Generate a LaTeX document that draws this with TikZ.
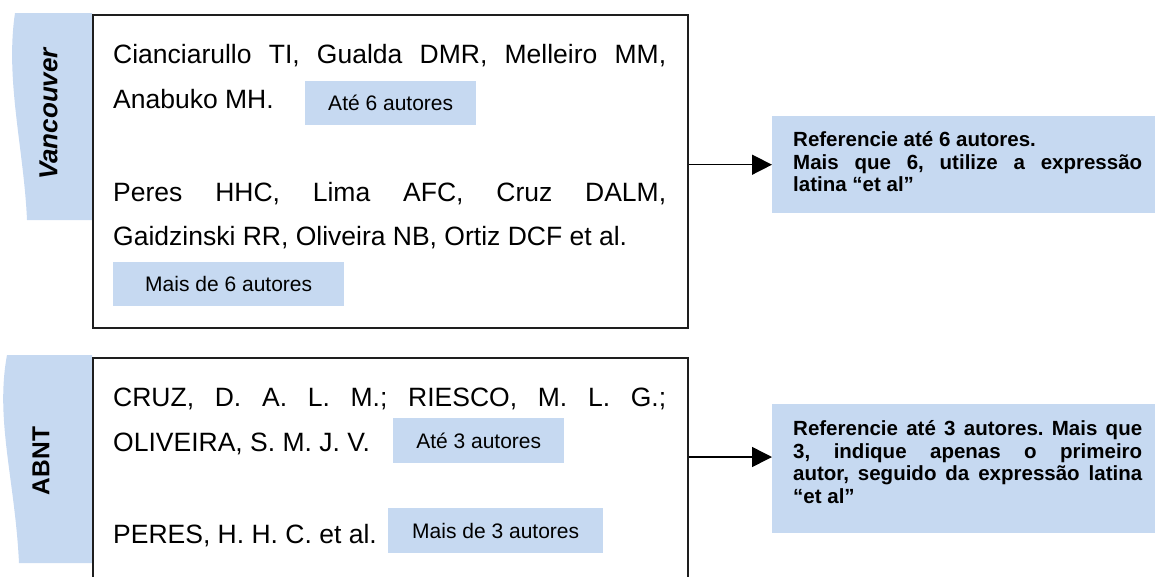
\documentclass[tikz,border=0pt]{standalone}
\usepackage{fontspec}
\setmainfont{Liberation Sans}
\usetikzlibrary{arrows.meta}
\definecolor{tabblue}{RGB}{198,217,241}
\definecolor{edge}{RGB}{30,30,30}
\frenchspacing
\begin{document}
\begin{tikzpicture}[x=1pt,y=-1pt,
  refbox/.style={draw=edge, line width=1.5pt, fill=white, inner sep=0pt, anchor=north west},
  lbl/.style={fill=tabblue, inner sep=0pt, minimum height=44pt, anchor=north west, font=\fontsize{21}{25}\selectfont},
  notebox/.style={fill=tabblue, inner sep=0pt, anchor=north west},
  mainline/.style={anchor=base west, inner sep=0pt, font=\fontsize{26.5}{30}\selectfont},
  noteline/.style={anchor=base west, inner sep=0pt, font=\fontsize{20.5}{24}\bfseries\selectfont},
  tabtext/.style={rotate=90, inner sep=0pt},
  conn/.style={draw=black, line width=1.5pt, -{Triangle[length=20pt,width=20pt]}}
]
\useasboundingbox (0,0) rectangle (1155,576);

% tabs
\fill[tabblue] (15,13) -- (92,13) -- (92,220) -- (27,220) .. controls (24,150) and (5,80) .. (15,13) -- cycle;
\fill[tabblue] (7,355) -- (92,355) -- (92,563) -- (19,563) .. controls (15,480) and (-5,420) .. (7,355) -- cycle;
\node[tabtext, font=\fontsize{26}{30}\bfseries\itshape\selectfont] (vt) at (48.5,114) {Vancouver};
\node[tabtext, font=\fontsize{24.5}{28}\bfseries\selectfont] (at) at (41,461) {ABNT};

% main boxes
\node[refbox, minimum width=595pt, minimum height=313pt] (vbox) at (92,14) {};
\node[refbox, minimum width=595pt, minimum height=240pt] (abox) at (92,357) {};

% note boxes
\node[notebox, minimum width=390pt, minimum height=97pt] (vnote) at (772,116) {};
\node[notebox, minimum width=390pt, minimum height=129pt] (anote) at (772,404) {};

% small label boxes
\node[lbl, minimum width=171pt] (v6a) at (305,81) {Até 6 autores};
\node[lbl, minimum width=231pt] (v6m) at (113,262) {Mais de 6 autores};
\node[lbl, minimum width=171pt, minimum height=45pt] (a3a) at (393,418) {Até 3 autores};
\node[lbl, minimum width=215pt, minimum height=45pt] (a3m) at (388,508) {Mais de 3 autores};

% reference texts
\node[mainline] (v1) at (113,63.3) {\makebox[553pt][s]{Cianciarullo TI, Gualda DMR, Melleiro MM,}};
\node[mainline] (v2) at (113,108.3) {Anabuko MH.};
\node[mainline] (v3) at (113,201) {\makebox[553pt][s]{Peres HHC, Lima AFC, Cruz DALM,}};
\node[mainline] (v4) at (113,245) {Gaidzinski RR, Oliveira NB, Ortiz DCF et al.};
\node[mainline] (a1) at (113,406.7) {\makebox[553pt][s]{CRUZ, D. A. L. M.; RIESCO, M. L. G.;}};
\node[mainline] (a2) at (113,451.7) {OLIVEIRA, S. M. J. V.};
\node[mainline] (a3) at (113,543) {PERES, H. H. C. et al.};

% note texts
\node[noteline] (n1) at (793,146.7) {Referencie até 6 autores.};
\node[noteline] (n2) at (793,169.3) {\makebox[349pt][s]{Mais que 6, utilize a expressão}};
\node[noteline] (n3) at (793,191.7) {latina “et al”};
\node[noteline] (m1) at (793,435) {\makebox[349pt][s]{Referencie até 3 autores. Mais que}};
\node[noteline] (m2) at (793,458) {\makebox[349pt][s]{3, indique apenas o primeiro}};
\node[noteline] (m3) at (793,480.5) {\makebox[349pt][s]{autor, seguido da expressão latina}};
\node[noteline] (m4) at (793,503) {“et al”};

% connectors
\draw[conn] (vbox.east |- vnote.west) -- (vnote.west);
\coordinate (aout) at ([yshift=-100pt]abox.north east);
\draw[conn] (aout) -- (aout -| anote.west);
\end{tikzpicture}
\end{document}
